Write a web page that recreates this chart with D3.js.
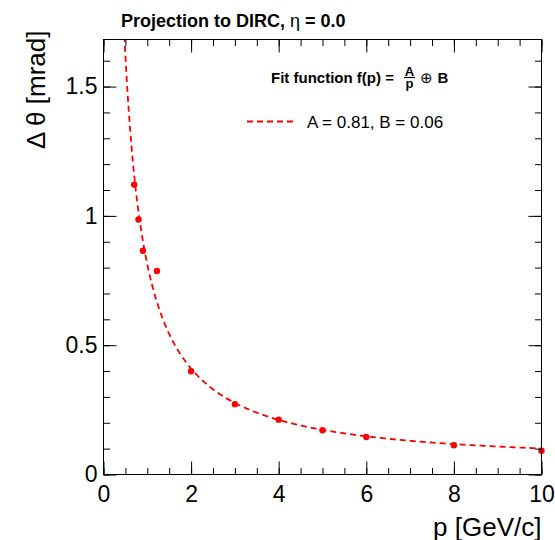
<!DOCTYPE html>
<html>
<head>
<meta charset="utf-8">
<script src="https://cdn.jsdelivr.net/npm/d3@7"></script>
<style>
  html, body { margin: 0; padding: 0; background: #fff; }
  svg { display: block; }
  text { font-family: "Liberation Sans", Arial, Helvetica, sans-serif; fill: #000; }
</style>
</head>
<body>
<svg id="chart" width="555" height="540"></svg>
<script>
// Measured angular resolution versus momentum
const momentum = [0.7, 0.8, 0.9, 1.22, 2, 3, 4, 5, 6, 8, 10];
const resolution = [1.121, 0.986, 0.865, 0.787, 0.399, 0.272, 0.212, 0.171, 0.145, 0.113, 0.092];

// Fit parameters: f(p) = A/p (+) B
const fitA = 0.81;
const fitB = 0.06;

// Axis ticks and labels
const xMajorTicks = [0, 2, 4, 6, 8, 10];
const xMinorTicks = d3.range(0, 10.001, 0.5);
const yMajorTicks = [0, 0.5, 1, 1.5];
const yMajorLabels = ["0", "0.5", "1", "1.5"];
const yMinorTicks = d3.range(0, 1.68, 0.1);

const frame = { left: 103.5, right: 541.5, top: 39.5, bottom: 474.5 };
const yMax = 1.682;
const red = "#ff0000";

const svg = d3.select("#chart");

const x = d3.scaleLinear().domain([0, 10]).range([frame.left, frame.right]);
const y = d3.scaleLinear().domain([0, yMax]).range([frame.bottom, frame.top]);

// Clip region for the fit curve
svg.append("defs").append("clipPath").attr("id", "plotClip")
  .append("rect")
  .attr("x", frame.left).attr("y", frame.top)
  .attr("width", frame.right - frame.left).attr("height", frame.bottom - frame.top);

// Fit curve
const fitFn = p => Math.sqrt((fitA / p) ** 2 + fitB ** 2);
const curveP = d3.range(0.3, 10.0001, 0.02);
svg.append("path")
  .attr("clip-path", "url(#plotClip)")
  .attr("d", d3.line().x(p => x(p)).y(p => y(fitFn(p)))(curveP))
  .attr("fill", "none")
  .attr("stroke", red)
  .attr("stroke-width", 1.8)
  .attr("stroke-dasharray", "6,4");

// Data points
svg.append("g").selectAll("circle")
  .data(momentum.map((p, i) => [p, resolution[i]]))
  .join("circle")
  .attr("cx", d => x(d[0]))
  .attr("cy", d => y(d[1]))
  .attr("r", 3.2)
  .attr("fill", red);

// Frame
svg.append("rect")
  .attr("x", frame.left).attr("y", frame.top)
  .attr("width", frame.right - frame.left).attr("height", frame.bottom - frame.top)
  .attr("fill", "none").attr("stroke", "#000").attr("stroke-width", 1);

const majorLen = 13, minorLen = 6.5;
const fontSize = 23;

function styleAxis(g) {
  g.select(".domain").remove();
  g.selectAll(".tick line").attr("stroke", "#000").attr("stroke-width", 1);
  g.selectAll(".tick text").attr("font-size", fontSize).attr("font-family", null);
}

// Bottom axis (labels + major ticks), ticks pointing inward
svg.append("g").attr("transform", `translate(0,${frame.bottom})`)
  .call(d3.axisBottom(x).tickValues(xMajorTicks).tickFormat(d3.format("d"))
    .tickSizeInner(-majorLen).tickSizeOuter(0).tickPadding(11))
  .call(styleAxis);
svg.append("g").attr("transform", `translate(0,${frame.bottom})`)
  .call(d3.axisBottom(x).tickValues(xMinorTicks).tickFormat("")
    .tickSizeInner(-minorLen).tickSizeOuter(0))
  .call(styleAxis);

// Top axis ticks
svg.append("g").attr("transform", `translate(0,${frame.top})`)
  .call(d3.axisTop(x).tickValues(xMajorTicks).tickFormat("")
    .tickSizeInner(-majorLen).tickSizeOuter(0))
  .call(styleAxis);
svg.append("g").attr("transform", `translate(0,${frame.top})`)
  .call(d3.axisTop(x).tickValues(xMinorTicks).tickFormat("")
    .tickSizeInner(-minorLen).tickSizeOuter(0))
  .call(styleAxis);

// Left axis
svg.append("g").attr("transform", `translate(${frame.left},0)`)
  .call(d3.axisLeft(y).tickValues(yMajorTicks).tickFormat((d, i) => yMajorLabels[i])
    .tickSizeInner(-majorLen).tickSizeOuter(0).tickPadding(6))
  .call(styleAxis);
svg.append("g").attr("transform", `translate(${frame.left},0)`)
  .call(d3.axisLeft(y).tickValues(yMinorTicks).tickFormat("")
    .tickSizeInner(-minorLen).tickSizeOuter(0))
  .call(styleAxis);

// Right axis ticks
svg.append("g").attr("transform", `translate(${frame.right},0)`)
  .call(d3.axisRight(y).tickValues(yMajorTicks).tickFormat("")
    .tickSizeInner(-majorLen).tickSizeOuter(0))
  .call(styleAxis);
svg.append("g").attr("transform", `translate(${frame.right},0)`)
  .call(d3.axisRight(y).tickValues(yMinorTicks).tickFormat("")
    .tickSizeInner(-minorLen).tickSizeOuter(0))
  .call(styleAxis);

// Axis titles
svg.append("text")
  .attr("x", frame.right).attr("y", 536)
  .attr("text-anchor", "end")
  .attr("font-size", 26)
  .text("p [GeV/c]");

svg.append("text")
  .attr("transform", `translate(45,${frame.top - 9}) rotate(-90)`)
  .attr("text-anchor", "end")
  .attr("font-size", 26)
  .text("Δ θ [mrad]");

// Title
svg.append("text")
  .attr("x", 121).attr("y", 27)
  .attr("font-size", 18)
  .attr("font-weight", "bold")
  .text("Projection to DIRC, ")
  .append("tspan").attr("font-weight", "normal").text("η")
  .append("tspan").attr("font-weight", "bold").text(" = 0.0");

// Fit function annotation
const fit = svg.append("g");
fit.append("text")
  .attr("x", 271).attr("y", 83)
  .attr("font-size", 15).attr("font-weight", "bold")
  .text("Fit function f(p) =");
fit.append("text")
  .attr("x", 409.5).attr("y", 75.5)
  .attr("text-anchor", "middle")
  .attr("font-size", 13).attr("font-weight", "bold")
  .text("A");
fit.append("line")
  .attr("x1", 404).attr("x2", 415).attr("y1", 77.5).attr("y2", 77.5)
  .attr("stroke", "#000").attr("stroke-width", 1.2);
fit.append("text")
  .attr("x", 409.5).attr("y", 87.5)
  .attr("text-anchor", "middle")
  .attr("font-size", 13).attr("font-weight", "bold")
  .text("p");
fit.append("text")
  .attr("x", 426.5).attr("y", 83)
  .attr("text-anchor", "middle")
  .attr("font-size", 15)
  .text("⊕");
fit.append("text")
  .attr("x", 437.5).attr("y", 83)
  .attr("font-size", 15).attr("font-weight", "bold")
  .text("B");

// Legend
svg.append("line")
  .attr("x1", 247).attr("x2", 295).attr("y1", 121.5).attr("y2", 121.5)
  .attr("stroke", red).attr("stroke-width", 1.8).attr("stroke-dasharray", "6,4");
svg.append("text")
  .attr("x", 307).attr("y", 127.5)
  .attr("font-size", 17)
  .text(`A = ${fitA.toFixed(2)}, B = ${fitB.toFixed(2)}`);
</script>
</body>
</html>
